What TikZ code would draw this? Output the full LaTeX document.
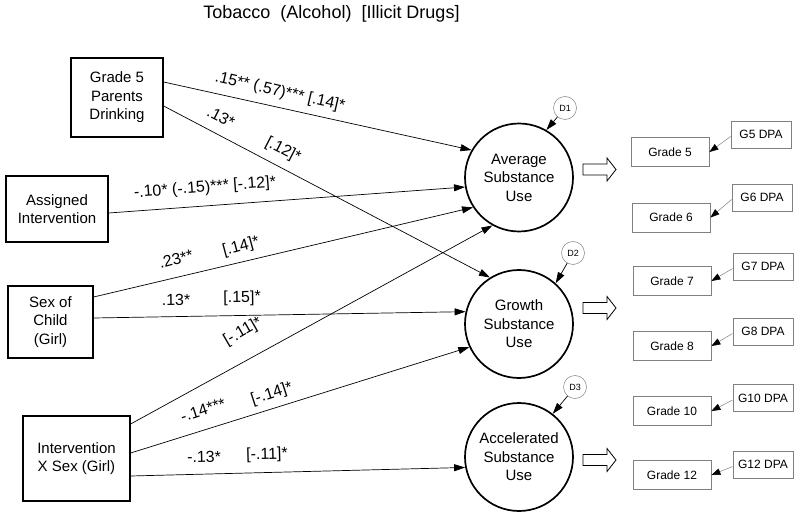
\documentclass[tikz,border=0pt]{standalone}
\usepackage{fontspec}
\setmainfont{Liberation Sans}
\usetikzlibrary{arrows.meta}
\begin{document}
\begin{tikzpicture}[x=1pt,y=-1pt,
 lbox/.style={draw, line width=1.3pt, inner sep=0pt, align=center, font=\fontsize{15}{18.5}\selectfont},
 latent/.style={draw, circle, line width=1.7pt, minimum size=108pt, inner sep=0pt, align=center, font=\fontsize{15}{18.5}\selectfont},
 dist/.style={draw=gray, circle, line width=0.5pt, minimum size=23pt, inner sep=0pt, font=\fontsize{9}{10}\selectfont},
 gbox/.style={draw=gray, line width=0.8pt, minimum width=78pt, minimum height=29pt, inner sep=0pt, font=\fontsize{12}{14}\selectfont},
 dpabox/.style={draw=gray, line width=0.8pt, minimum width=60pt, minimum height=27pt, inner sep=0pt, font=\fontsize{12}{14}\selectfont},
 conn/.style={line width=0.7pt, -{Triangle[length=11pt,width=7pt]}},
 dconn/.style={draw=gray, line width=0.5pt, -{Triangle[length=9pt,width=6.5pt,color=black]}},
 lab/.style={font=\fontsize{16}{18}\selectfont, inner sep=0pt},
 barrow/.style={line width=0.8pt}
]
\useasboundingbox (0,0) rectangle (800,518);

\node[anchor=base, font=\fontsize{18}{20}\selectfont] (title) at (331.5,18.5) {Tobacco\hspace{0.556em}(Alcohol)\hspace{0.556em}[Illicit Drugs]};

% predictors
\node[lbox, minimum width=92pt, minimum height=79pt] (g5) at (117,97.5) {Grade 5\\Parents\\Drinking};
\node[lbox, minimum width=102pt, minimum height=66pt] (asg) at (57,209) {Assigned\\Intervention};
\node[lbox, minimum width=85pt, minimum height=72pt] (sex) at (50.5,322) {Sex of\\Child\\(Girl)};
\node[lbox, minimum width=107pt, minimum height=85pt] (ixs) at (76.5,458.5) {Intervention\\X Sex (Girl)};

% latent factors
\node[latent] (avg) at (519,177.5) {Average\\Substance\\Use};
\node[latent] (gro) at (519,324) {Growth\\Substance\\Use};
\node[latent] (acc) at (519,457) {Accelerated\\Substance\\Use};

% disturbances
\node[dist] (d1) at (565,108) {D1};
\node[dist] (d2) at (573,253) {D2};
\node[dist] (d3) at (575,387) {D3};
\draw[conn] (d1) -- (avg.60);
\draw[conn] (d2) -- (gro.48);
\draw[conn] (d3) -- (acc.52);

% paths
\draw[conn] ([yshift=15.5pt]g5.east) -- (avg.150);
\draw[conn] ([yshift=-8.5pt]g5.east) -- (gro.122);
\draw[conn] ([yshift=-4pt]asg.east) -- (avg.190);
\draw[conn] ([yshift=25pt]sex.east) -- (avg.213);
\draw[conn] ([yshift=4pt]sex.east) -- (gro.167);
\draw[conn] ([yshift=34.5pt]ixs.east) -- (avg.241);
\draw[conn] ([yshift=5.5pt]ixs.east) -- (gro.205);
\draw[conn] ([yshift=-17.5pt]ixs.east) -- (acc.191);

% labels
\node[lab, rotate=-12.9] (l1) at (280,92) {.15** (.57)*** [.14]*};
\node[lab, rotate=-27.3] (l2a) at (221,117) {.13*};
\node[lab, rotate=-27.3] (l2b) at (283,150) {[.12]*};
\node[lab, rotate=4.3] (l3) at (205,188) {-.10* (-.15)*** [-.12]*};
\node[lab, rotate=15] (l4a) at (176,259) {.23**};
\node[lab, rotate=15] (l4b) at (241,247) {[.14]*};
\node[lab, rotate=0.7] (l5a) at (176,300) {.13*};
\node[lab, rotate=0.7] (l5b) at (242,298) {[.15]*};
\node[lab, rotate=30] (l6) at (243,332) {[-.11]*};
\node[lab, rotate=18] (l7a) at (203,410) {-.14***};
\node[lab, rotate=18] (l7b) at (272,394) {[-.14]*};
\node[lab, rotate=1.5] (l8a) at (204,457) {-.13*};
\node[lab, rotate=1.5] (l8b) at (267,455) {[-.11]*};

% block arrows
\coordinate (ba1) at (599.5,169.5);
\coordinate (ba2) at (599.5,308);
\coordinate (ba3) at (599.5,460);
\foreach \c in {ba1,ba2,ba3}
  \draw[barrow] (\c) ++(-16.5,-5.5) -- ++(24,0) -- ++(0,-6) -- ++(9,11.5) -- ++(-9,11.5) -- ++(0,-6) -- ++(-24,0) -- cycle;

% grade boxes
\node[gbox] (gr5) at (670,152) {Grade 5};
\node[gbox] (gr6) at (671,217.5) {Grade 6};
\node[gbox] (gr7) at (672,281) {Grade 7};
\node[gbox] (gr8) at (672,346) {Grade 8};
\node[gbox] (gr10) at (672,411) {Grade 10};
\node[gbox] (gr12) at (672,475) {Grade 12};

\node[dpabox] (p5) at (761,134.5) {G5 DPA};
\node[dpabox] (p6) at (762,197.5) {G6 DPA};
\node[dpabox] (p7) at (763,266.5) {G7 DPA};
\node[dpabox] (p8) at (763,331.5) {G8 DPA};
\node[dpabox] (p10) at (763,398) {G10 DPA};
\node[dpabox] (p12) at (763,464.5) {G12 DPA};

\draw[dconn] ([yshift=-2pt]p5.west) -- (gr5.east);
\draw[dconn] ([yshift=-2pt]p6.west) -- (gr6.east);
\draw[dconn] ([yshift=-2pt]p7.west) -- (gr7.east);
\draw[dconn] ([yshift=-2pt]p8.west) -- (gr8.east);
\draw[dconn] ([yshift=-2pt]p10.west) -- (gr10.east);
\draw[dconn] ([yshift=-2pt]p12.west) -- (gr12.east);
\end{tikzpicture}
\end{document}
